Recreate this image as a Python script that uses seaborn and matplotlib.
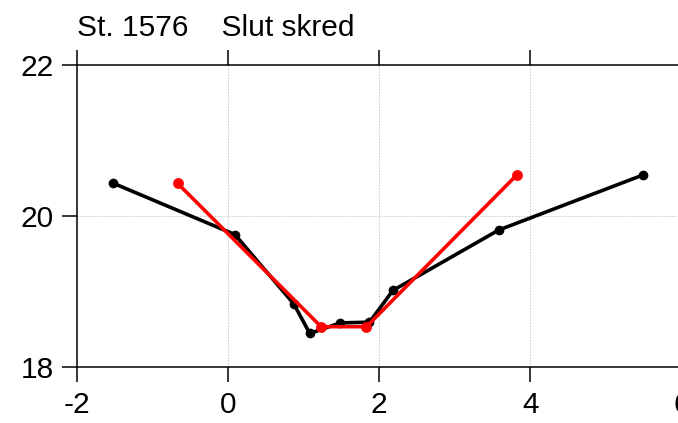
import matplotlib
matplotlib.use("Agg")
import matplotlib.pyplot as plt
import seaborn as sns

# data
black_x = [-1.52, 0.09, 0.87, 1.08, 1.48, 1.87, 2.18, 3.58, 5.49]
black_y = [20.43, 19.75, 18.83, 18.44, 18.58, 18.59, 19.01, 19.81, 20.54]
red_x = [-0.67, 1.23, 1.83, 3.82]
red_y = [20.43, 18.53, 18.53, 20.54]
x_ticks = [-2, 0, 2, 4, 6]
y_ticks = [18, 20, 22]
title = "St. 1576    Slut skred"

sns.set_style("ticks")
plt.rcParams['font.family'] = ['Liberation Sans', 'DejaVu Sans']
plt.rcParams['axes.unicode_minus'] = False
plt.rcParams['text.color'] = 'black'

fig = plt.figure(figsize=(6.78, 4.23), dpi=100)
ax = fig.add_axes([77 / 678, 1 - 366.7 / 423, (681.6 - 77) / 678, (366.7 - 64.7) / 423])

sns.lineplot(x=black_x, y=black_y, ax=ax, color='black', linewidth=2.6,
             marker='o', markersize=7, markeredgewidth=0, sort=False, estimator=None)
sns.lineplot(x=red_x, y=red_y, ax=ax, color='#ff0000', linewidth=2.6,
             marker='o', markersize=7.8, markeredgewidth=0, sort=False, estimator=None)

ax.set_xlim(-2, 6)
ax.set_ylim(18, 22)
ax.set_xticks(x_ticks)
ax.set_yticks(y_ticks)
ax.set_xlabel('')
ax.set_ylabel('')

for v in [0, 2, 4]:
    ax.axvline(v, color='#c8c8c8', linewidth=0.7, linestyle=(0, (1.5, 1.5)), zorder=0)
ax.axhline(20, color='#c8c8c8', linewidth=0.7, linestyle=(0, (1.5, 1.5)), zorder=0)

for s in ax.spines.values():
    s.set_linewidth(1.1)
    s.set_color('black')

ax.tick_params(axis='both', direction='out', length=10.8, width=1.1, labelsize=21.5,
               colors='black', labelcolor='black')
ax.tick_params(axis='x', top=True, pad=7)
ax.tick_params(axis='y', right=False, pad=6)

fig.text(77 / 678, 1 - 36 / 423, title, fontsize=21.5, ha='left', va='baseline', color='black')

fig.savefig('out.png', dpi=100)
